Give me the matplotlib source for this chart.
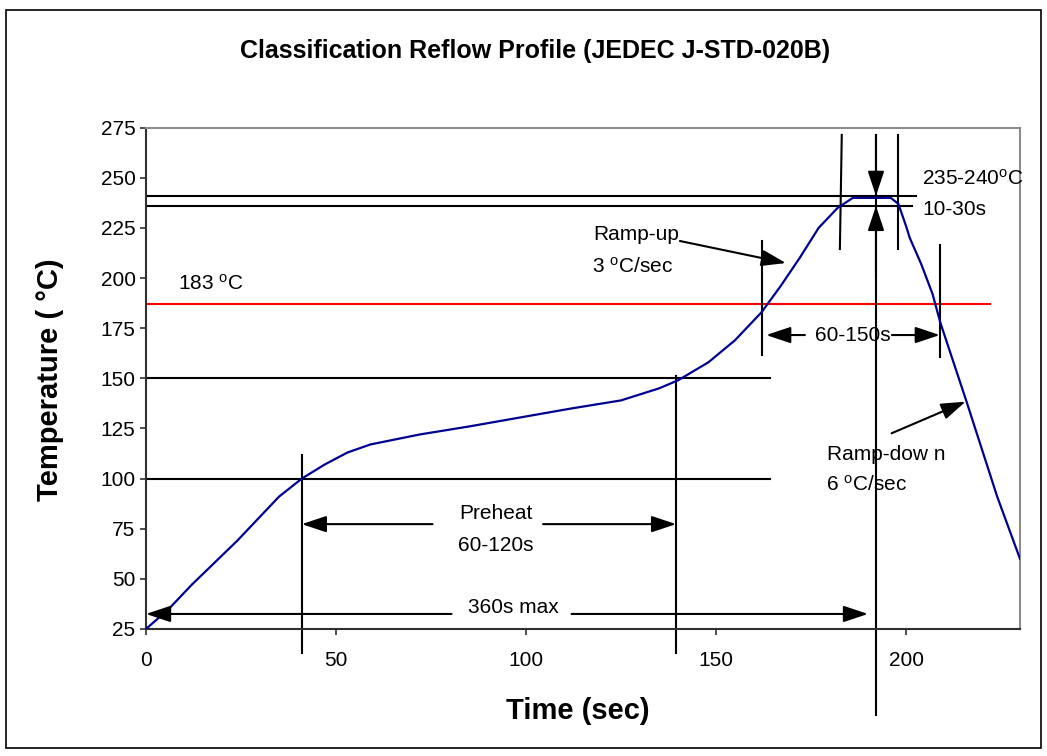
import matplotlib
matplotlib.use("Agg")
import matplotlib.pyplot as plt
from matplotlib.patches import Rectangle

plt.rcParams['font.family'] = ['Liberation Sans', 'DejaVu Sans']
plt.rcParams['mathtext.fontset'] = 'custom'
plt.rcParams['mathtext.rm'] = 'Liberation Sans'
plt.rcParams['mathtext.it'] = 'Liberation Sans'

# ---- data ----
time_s = [0, 6, 12, 18, 24, 30, 35, 41, 47, 53, 59, 72, 85, 100, 112, 125, 135, 140,
          148, 155, 162, 167, 172, 177, 182, 186, 196, 198, 200, 201, 204, 207, 209,
          216, 224, 230]
temp_c = [25, 35, 47, 58, 69, 81, 91, 100, 107, 113, 117, 122, 126, 131, 135, 139, 145, 149,
          158, 169, 183, 196, 210, 225, 235, 240, 240, 237, 226, 220, 207, 192, 178,
          138, 91, 60]

liquidus_c = 187
peak_hi_c = 241
peak_lo_c = 236
preheat_lo_c = 100
preheat_hi_c = 150

x_ticks = [0, 50, 100, 150, 200]
y_ticks = [25, 50, 75, 100, 125, 150, 175, 200, 225, 250, 275]

W, H = 1047, 756
fig = plt.figure(figsize=(W / 100, H / 100), dpi=100)
fig.patch.set_facecolor('white')

L, R, T, B = 146, 1020, 127.7, 629
ax = fig.add_axes([L / W, 1 - B / H, (R - L) / W, (B - T) / H])
ax.set_xlim(0, 230)
ax.set_ylim(25, 275)
ax.set_xticks(x_ticks)
ax.set_yticks(y_ticks)
ax.tick_params(axis='both', direction='out', length=4.5, width=1.2, color='#303030',
               labelsize=15, pad=3)
ax.tick_params(axis='x', pad=11)
for s in ['top', 'right']:
    ax.spines[s].set_color('#8c8c8c')
    ax.spines[s].set_linewidth(1.5)
for s in ['left', 'bottom']:
    ax.spines[s].set_color('#303030')
    ax.spines[s].set_linewidth(1.5)

K = 'black'
LW = 1.5

# horizontal reference lines
ax.plot([0, 202.6], [peak_hi_c, peak_hi_c], color=K, lw=LW)
ax.plot([0, 201.6], [peak_lo_c, peak_lo_c], color=K, lw=LW)
ax.plot([0, 222.1], [liquidus_c, liquidus_c], color='#ff0000', lw=LW)
ax.plot([0, 164.2], [preheat_hi_c, preheat_hi_c], color=K, lw=LW)
ax.plot([0, 164.2], [preheat_lo_c, preheat_lo_c], color=K, lw=LW)

# vertical marker lines
ax.plot([41, 41], [111.8, 13], color=K, lw=LW, clip_on=False)
ax.plot([139.5, 139.5], [151.2, 13], color=K, lw=LW, clip_on=False)
ax.plot([162.1, 162.1], [218.6, 161.6], color=K, lw=LW)
ax.plot([208.9, 208.9], [216.5, 160.6], color=K, lw=LW)
ax.plot([192.1, 192.1], [271.4, -17.9], color=K, lw=LW, clip_on=False)
ax.plot([183.1, 182.6], [271.4, 214.5], color=K, lw=LW)
ax.plot([197.8, 197.8], [271.4, 214.5], color=K, lw=LW)

# profile curve
ax.plot(time_s, temp_c, color='#000090', lw=1.6, zorder=5)


def arrow(x0, y0, x1, y1):
    ax.annotate('', xy=(x1, y1), xytext=(x0, y0),
                arrowprops=dict(arrowstyle='-|>,head_length=1.5,head_width=0.5',
                                mutation_scale=10, color=K, lw=LW,
                                shrinkA=0, shrinkB=0),
                annotation_clip=False, zorder=6)


# peak window arrows
arrow(192.1, 271.4, 192.1, peak_hi_c)
arrow(192.1, 200, 192.1, peak_lo_c)

# 360s max
arrow(80.4, 32.5, 0, 32.5)
arrow(112, 32.5, 190, 32.5)
# preheat
arrow(75.4, 77.3, 41, 77.3)
arrow(104.5, 77.3, 139.5, 77.3)
# 60-150s
arrow(173.4, 171.6, 163.2, 171.6)
arrow(196.3, 171.6, 208.9, 171.6)
# ramp up / down
arrow(140.5, 218.5, 168.4, 207.5)
arrow(196.2, 122.6, 215.7, 138.4)

fs = 15
ax.text(8.4, 197, r'183 $^{\rm o}$C', fontsize=fs, ha='left', va='center')
ax.text(204.2, 249.8, r'235-240$^{\rm o}$C', fontsize=fs, ha='left', va='center',
        clip_on=False)
ax.text(204.2, 234.3, '10-30s', fontsize=fs, ha='left', va='center')
ax.text(117.6, 221.5, 'Ramp-up', fontsize=fs, ha='left', va='center')
ax.text(117.3, 205.5, r'3 $^{\rm o}$C/sec', fontsize=fs, ha='left', va='center')
ax.text(185.9, 171.6, '60-150s', fontsize=fs, ha='center', va='center', zorder=7)
ax.text(179.1, 112.2, 'Ramp-dow n', fontsize=fs, ha='left', va='center')
ax.text(179.0, 96.8, r'6 $^{\rm o}$C/sec', fontsize=fs, ha='left', va='center')
ax.text(92, 82.8, 'Preheat', fontsize=fs, ha='center', va='center')
ax.text(92, 66.7, '60-120s', fontsize=fs, ha='center', va='center')
ax.text(96.8, 35.5, '360s max', fontsize=fs, ha='center', va='center')

fig.text(535 / W, 1 - 51 / H, 'Classification Reflow Profile (JEDEC J-STD-020B)',
         fontsize=18, fontweight='bold', ha='center', va='center')
fig.text(50 / W, 1 - 380 / H, 'Temperature ( °C)', fontsize=21, fontweight='bold',
         ha='center', va='center', rotation=90)
fig.text(578 / W, 1 - 711 / H, 'Time (sec)', fontsize=21, fontweight='bold',
         ha='center', va='center')

fig.patches.append(Rectangle((6 / W, 1 - 748 / H), (1041 - 6) / W, (748 - 10) / H,
                             transform=fig.transFigure, fill=False, ec='black', lw=1.2))

fig.savefig('out.png', dpi=100)
